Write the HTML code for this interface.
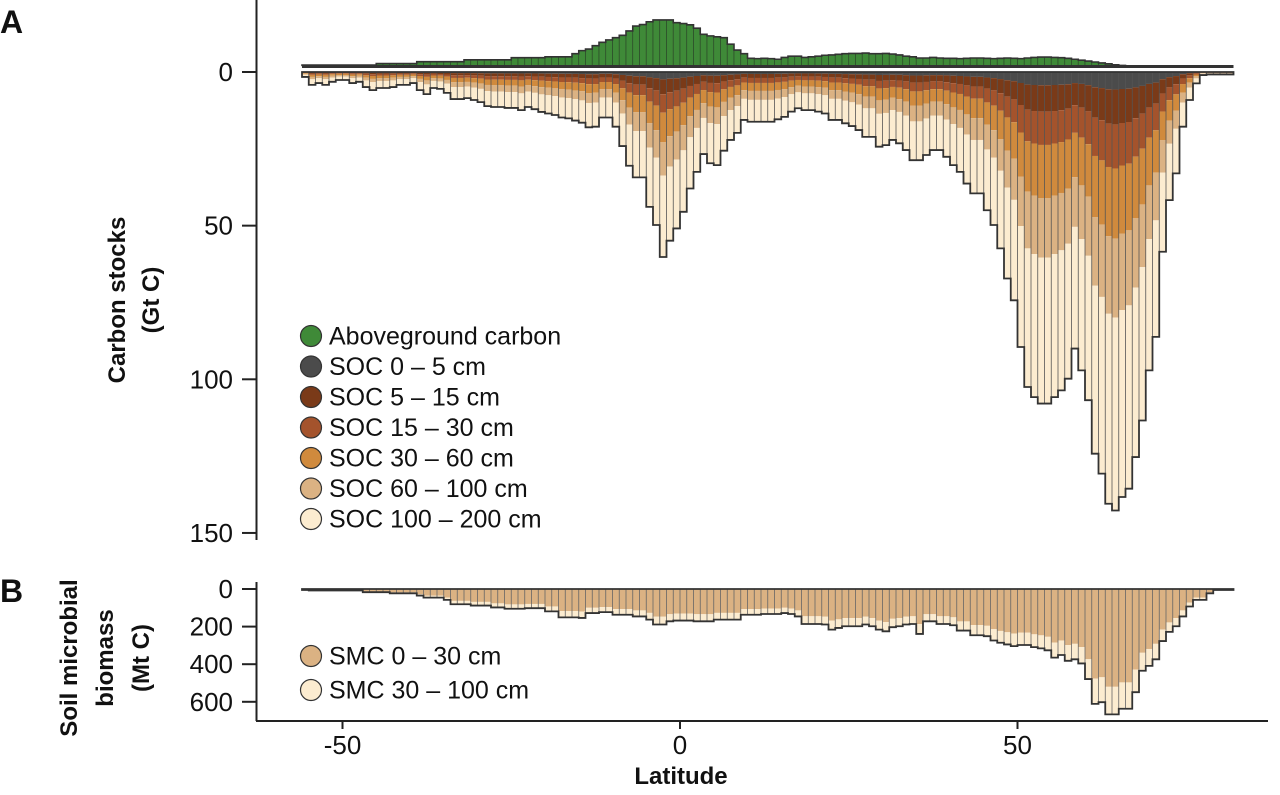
<!DOCTYPE html>
<html><head><meta charset="utf-8"><title>Carbon stocks by latitude</title>
<style>
html,body{margin:0;padding:0;background:#fff;}
svg{display:block;font-family:"Liberation Sans",sans-serif;}
</style></head>
<body>
<svg id="chart" width="1280" height="795" viewBox="0 0 1280 795" xmlns="http://www.w3.org/2000/svg">
  <g id="marksA"></g>
  <g id="marksB"></g>
  <g id="axes" stroke="#222" stroke-width="2" fill="none">
    <line x1="256.5" y1="0" x2="256.5" y2="540"/>
    <line x1="256.5" y1="582" x2="256.5" y2="721"/>
    <line x1="256" y1="721" x2="1268" y2="721"/>
  </g>
  <g id="ticks"></g>
  <text x="0" y="33" font-size="32" font-weight="bold" fill="#111">A</text>
  <text x="0" y="602" font-size="32" font-weight="bold" fill="#111">B</text>
  <text transform="translate(125,300) rotate(-90)" text-anchor="middle" font-size="24" font-weight="bold" fill="#111"><tspan x="0" dy="0">Carbon stocks</tspan><tspan x="0" dy="34">(Gt C)</tspan></text>
  <text transform="translate(77,658) rotate(-90)" text-anchor="middle" font-size="24" font-weight="bold" fill="#111"><tspan x="0" dy="0">Soil microbial</tspan><tspan x="0" dy="36">biomass</tspan><tspan x="0" dy="36">(Mt C)</tspan></text>
  <text x="681" y="784" text-anchor="middle" font-size="24" font-weight="bold" fill="#111">Latitude</text>
  <g id="legendA"></g>
  <g id="legendB"></g>
</svg>
<script>
// ---- data (1-degree latitude bins, left edge -56 .. 81) ----
const latStart = -56;
const socTotal = [1.6,4.2,3.6,4.2,3.2,2.6,2.6,3.6,3.2,4.9,5.9,5.2,5.2,4.9,4.2,4.2,3.6,5.9,7.2,5.2,5.5,6.8,8.8,8.8,8.5,9.1,9.8,11.1,11.4,11.4,11.7,11.7,12.4,11.4,12.1,13,
13.5,14,14.8,15.1,15.8,16.5,18,17.8,14.8,14.8,17.8,24.1,30.5,34.3,34.3,43.9,49.8,60.2,54.9,50.9,45.5,37.9,32.5,26.7,29.7,30.3,25.6,22.1,19.8,15.6,16.2,16.2,
16.2,16.2,15.4,14.6,12.9,11.8,12.4,12.4,12.9,13.5,15.6,15.6,16.7,17.6,18.9,21.1,21.1,24.3,23.8,22.1,23.2,25.4,28.7,28.7,27,25.4,25.4,27.6,30.3,32.5,36.3,39.5,39.5,45,49.8,57.4,67.2,74.3,89.5,102.5,105.8,107.9,107.9,105.8,103.6,99.8,90,97.1,106.8,124.2,130.7,140.5,142.7,138.3,135.6,125.3,113.4,97.1,86.2,58.5,41.7,33,17.8,9.1,3.7,1,0.8,0.8,0.8,0.8];
const socLayerNames = ["SOC 0 – 5 cm","SOC 5 – 15 cm","SOC 15 – 30 cm","SOC 30 – 60 cm","SOC 60 – 100 cm","SOC 100 – 200 cm"];
const socLayerShare = [0.04,0.08,0.10,0.16,0.18,0.44];
const agcValues = [0.3,0.3,0.3,0.3,0.3,0.3,0.3,0.3,0.3,0.3,0.3,0.8,0.8,0.8,0.8,0.8,0.8,1.4,1.4,1.4,1.4,1.4,1.4,1.4,2,2,2,2,2,2,2,2.7,2.7,2.7,2.7,2.7,3,3,3,3,
4,5,5.5,6.6,7.7,8.5,9.2,10,11.4,13,13.5,14.4,15,15,15,14.1,13.8,13.4,12.3,10.3,9.8,9.5,9.2,7.1,5.2,4,2.5,
2.4,2.5,2.4,2.2,2.8,3.2,3.2,2.8,3,3.2,3.5,3.6,3.8,4,4.1,4.1,4.2,4,4,4.1,3.9,3.6,3.2,3,2.6,2.6,2.8,2.6,2.5,2.5,2.4,2.5,2.6,2.6,2.5,2.4,2.5,2.6,2.5,2.4,2.6,2.8,2.9,2.9,2.8,2.7,2.5,2.2,1.9,1.6,1.3,1,0.7,0.4,0.2,
0,0,0,0,0,0,0,0,0,0,0,0,0,0,0,0];
const smcTotal = [5,8,8,8,8,8,8,8,8,17,17,17,17,23,23,23,23,35,46,46,46,58,81,81,81,88,88,88,98,98,105,105,105,102,102,102,119,119,151,151,151,154,128,128,123,123,137,137,137,146,146,163,189,189,172,168,168,168,172,172,172,163,163,163,163,137,137,137,
133,133,133,128,133,146,186,186,186,189,216,207,198,198,198,189,198,216,225,203,198,189,186,239,172,172,186,186,193,221,221,246,246,251,274,286,295,304,298,298,309,316,326,365,351,382,374,396,479,611,602,667,667,637,637,549,435,409,374,277,228,198,146,93,58,58,23,5,5,5];
const smcShare0to30 = 0.78;
const yTicksA = [0,50,100,150];
const yTicksB = [0,200,400,600];
const xTicks = [-50,0,50];

// ---- scales ----
const xS = lat => 680 + lat*6.75;
const yA = v => 72 + v*3.073;
const yG = v => 66 - v*3.073;
const yB = v => 589 + v*0.188;
const socColors = ["#4b4b4b","#7a3a18","#a4532c","#d08a3d","#dbb283","#fcecd0"];
const agcColor = "#3f8a38";
const smcColors = ["#dbb283","#fcecd0"];
const NS = "http://www.w3.org/2000/svg";
function mk(tag, attrs, parent){const e=document.createElementNS(NS,tag);for(const k in attrs)e.setAttribute(k,attrs[k]);parent.appendChild(e);return e;}

const gA = document.getElementById('marksA');
const gB = document.getElementById('marksB');
const n = socTotal.length;

// green aboveground bars
for(let i=0;i<agcValues.length;i++){
  const v = agcValues[i]; if(!(v>0)) continue;
  const x0 = xS(latStart+i), x1 = xS(latStart+i+1);
  const r = mk('rect',{x:x0,y:yG(v),width:x1-x0,height:yG(0)-yG(v),fill:agcColor,stroke:"#2d4a2a","stroke-width":0.7},gA);
  
  
}
// green outline
(function(){
  let d = "M"+xS(latStart)+","+yG(0);
  for(let i=0;i<agcValues.length;i++){
    const v = agcValues[i]||0;
    d += " L"+xS(latStart+i)+","+yG(v)+" L"+xS(latStart+i+1)+","+yG(v);
  }
  d += " L"+xS(latStart+agcValues.length)+","+yG(0);
  const p = mk('path',{d:d,fill:"none",stroke:"#333","stroke-width":1.6},gA);
  
  
  const b = mk('line',{x1:xS(latStart),x2:xS(latStart+n),y1:yG(0)+0.5,y2:yG(0)+0.5,stroke:"#333","stroke-width":3},gA);
  
  
})();

// SOC stacked bars
for(let i=0;i<n;i++){
  const x0 = xS(latStart+i), x1 = xS(latStart+i+1);
  let acc = 0;
  for(let j=0;j<socLayerShare.length;j++){
    const h = socTotal[i]*socLayerShare[j];
    const r = mk('rect',{x:x0,y:yA(acc),width:x1-x0,height:Math.max(0,yA(acc+h)-yA(acc)),fill:socColors[j]},gA);
    
    
    acc += h;
  }
  const s = mk('line',{x1:x0,x2:x0,y1:yA(0),y2:yA(socTotal[i]),stroke:"#555","stroke-width":0.8},gA);
  
  
}
(function(){
  let d = "M"+xS(latStart)+","+yA(0);
  for(let i=0;i<n;i++){
    d += " L"+xS(latStart+i)+","+yA(socTotal[i])+" L"+xS(latStart+i+1)+","+yA(socTotal[i]);
  }
  d += " L"+xS(latStart+n)+","+yA(0)+" Z";
  const p = mk('path',{d:d,fill:"none",stroke:"#333","stroke-width":1.8},gA);
  
  
})();

// SMC stacked bars
for(let i=0;i<smcTotal.length;i++){
  const x0 = xS(latStart+i), x1 = xS(latStart+i+1);
  const a = smcTotal[i]*smcShare0to30;
  const r1 = mk('rect',{x:x0,y:yB(0),width:x1-x0,height:yB(a)-yB(0),fill:smcColors[0]},gB);
  
  
  const r2 = mk('rect',{x:x0,y:yB(a),width:x1-x0,height:yB(smcTotal[i])-yB(a),fill:smcColors[1]},gB);
  
  
  const s = mk('line',{x1:x0,x2:x0,y1:yB(0),y2:yB(smcTotal[i]),stroke:"#666","stroke-width":0.8},gB);
  
  
}
(function(){
  let d = "M"+xS(latStart)+","+yB(0);
  for(let i=0;i<smcTotal.length;i++){
    d += " L"+xS(latStart+i)+","+yB(smcTotal[i])+" L"+xS(latStart+i+1)+","+yB(smcTotal[i]);
  }
  d += " L"+xS(latStart+smcTotal.length)+","+yB(0)+" Z";
  const p = mk('path',{d:d,fill:"none",stroke:"#333","stroke-width":1.8},gB);
  
  
})();

// ticks
const gT = document.getElementById('ticks');
yTicksA.forEach(v=>{
  const l = mk('line',{x1:242,x2:256.5,y1:yA(v),y2:yA(v),stroke:"#222","stroke-width":2},gT);
  
  
  const t = mk('text',{x:233,y:yA(v)+9,"text-anchor":"end","font-size":26,fill:"#111"},gT);
  t.textContent = v;
  
  
});
yTicksB.forEach(v=>{
  const l = mk('line',{x1:242,x2:256.5,y1:yB(v),y2:yB(v),stroke:"#222","stroke-width":2},gT);
  
  
  const t = mk('text',{x:233,y:yB(v)+9,"text-anchor":"end","font-size":26,fill:"#111"},gT);
  t.textContent = v;
  
  
});
xTicks.forEach(v=>{
  const l = mk('line',{x1:xS(v),x2:xS(v),y1:721,y2:729,stroke:"#222","stroke-width":2},gT);
  
  
  const t = mk('text',{x:xS(v),y:754,"text-anchor":"middle","font-size":26,fill:"#111"},gT);
  t.textContent = v;
  
  
});

// legends
const gLA = document.getElementById('legendA');
const legA = [["Aboveground carbon",agcColor]].concat(socLayerNames.map((s,j)=>[s,socColors[j]]));
legA.forEach((e,k)=>{
  const cy = 336 + k*30.5;
  const c = mk('circle',{cx:311,cy:cy,r:10.5,fill:e[1],stroke:"#333","stroke-width":1.2},gLA);
  
  
  const t = mk('text',{x:329,y:cy+8.5,"font-size":25,fill:"#111"},gLA);
  t.textContent = e[0];
  
  
});
const gLB = document.getElementById('legendB');
[["SMC 0 – 30 cm",smcColors[0]],["SMC 30 – 100 cm",smcColors[1]]].forEach((e,k)=>{
  const cy = 656 + k*34;
  const c = mk('circle',{cx:311,cy:cy,r:10.5,fill:e[1],stroke:"#333","stroke-width":1.2},gLB);
  
  
  const t = mk('text',{x:329,y:cy+8.5,"font-size":25,fill:"#111"},gLB);
  t.textContent = e[0];
  
  
});
</script>
</body></html>
